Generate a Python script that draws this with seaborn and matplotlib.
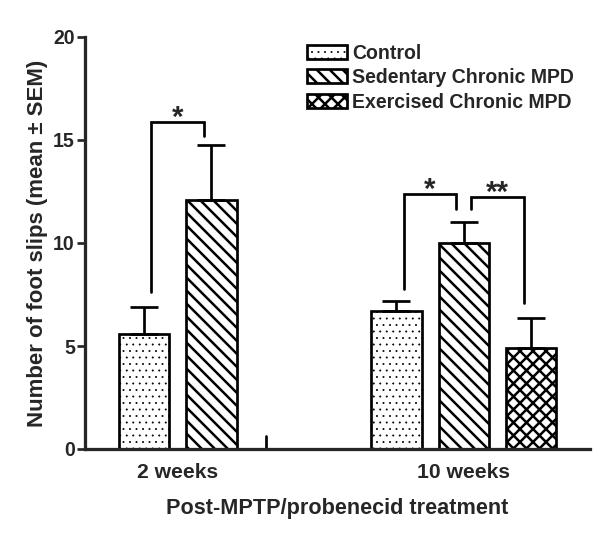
import matplotlib
matplotlib.use("Agg")
import matplotlib.pyplot as plt
from matplotlib.patches import Patch
from matplotlib.colors import to_hex
import numpy as np
import pandas as pd
import seaborn as sns

# data
groups = ["2 weeks", "10 weeks"]
conditions = ["Control", "Sedentary Chronic MPD", "Exercised Chronic MPD"]
bar_group = ["2 weeks", "2 weeks", "10 weeks", "10 weeks", "10 weeks"]
bar_cond = ["Control", "Sedentary Chronic MPD", "Control",
            "Sedentary Chronic MPD", "Exercised Chronic MPD"]
means = [5.6, 12.1, 6.7, 10.0, 4.9]
sems = [1.3, 2.65, 0.5, 1.0, 1.45]

# hatch spacing follows dpi, 78 dpi gives the ~13 px pattern of the original
DPI = 78
sns.set_style("ticks")
plt.rcParams["font.family"] = ["Liberation Sans", "DejaVu Sans"]
plt.rcParams["font.weight"] = "bold"
plt.rcParams["hatch.linewidth"] = 2.3
plt.rcParams["hatch.color"] = "black"

lw = 2.5
df = pd.DataFrame({"group": bar_group, "condition": bar_cond, "mean": means})

fig = plt.figure(figsize=(600 / DPI, 538 / DPI), dpi=DPI)
ax = fig.add_axes([85 / 600, 89 / 538, 505 / 600, 412 / 538])

keycols = ["#ff0000", "#00ff00", "#0000ff"]
palette = dict(zip(conditions, keycols))
hatches = {"Control": "..", "Sedentary Chronic MPD": "\\\\", "Exercised Chronic MPD": "xx"}

sns.barplot(data=df, x="group", y="mean", hue="condition", order=groups,
            hue_order=conditions, palette=palette, saturation=1, errorbar=None,
            width=0.8, gap=0.25, legend=False, edgecolor="black", linewidth=lw,
            ax=ax)

col2cond = dict(zip(keycols, conditions))
for p in ax.patches:
    cond = col2cond[to_hex(p.get_facecolor())]
    p.set_facecolor("white")
    p.set_edgecolor("black")
    p.set_hatch(hatches[cond])
    if cond == "Control" and hasattr(p, "set_hatch_linewidth"):
        p.set_hatch_linewidth(0.6)

# upper-only error bars
slot = 0.8 / len(conditions)
xpos = {}
for g, c in zip(bar_group, bar_cond):
    xpos[(g, c)] = groups.index(g) + (conditions.index(c) - 1) * slot
xs = [xpos[(g, c)] for g, c in zip(bar_group, bar_cond)]
ax.errorbar(xs, means, yerr=[np.zeros(len(sems)), sems], fmt="none",
            ecolor="black", elinewidth=lw, capsize=12.5, capthick=lw)

# significance brackets: (group, cond a, cond b, top, leg a bottom, leg b bottom, label)
brackets = [
    ("2 weeks", 0, 1, 15.87, 7.6, 15.2, "*"),
    ("10 weeks", 0, 1, 12.38, 7.77, 11.65, "*"),
    ("10 weeks", 1, 2, 12.23, 11.65, 7.09, "**"),
]
for g, a, b, top, ya, yb, lab in brackets:
    xa = xpos[(g, conditions[a])] + 0.03
    xb = xpos[(g, conditions[b])] - 0.03
    ax.plot([xa, xa, xb, xb], [ya, top, top, yb], color="black", lw=lw,
            solid_joinstyle="miter", clip_on=False)
    ax.text((xa + xb) / 2, top - 0.2, lab, ha="center", va="baseline",
            fontsize=27, fontweight="bold")

# small mark between the groups
ax.plot([0.218, 0.218], [0, 0.63], color="black", lw=lw)

ax.set_xlim(-0.5, 1.5)
ax.set_ylim(0, 20)
ax.set_yticks([0, 5, 10, 15, 20])
tick2 = (xpos[("2 weeks", "Control")] + xpos[("2 weeks", "Sedentary Chronic MPD")]) / 2
ax.set_xticks([tick2, 1.0])
ax.set_xticklabels(groups)
ax.tick_params(axis="x", length=0, pad=13, labelsize=19.5)
ax.tick_params(axis="y", length=7.4, width=lw, pad=2, labelsize=18)
for s in ["left", "bottom"]:
    ax.spines[s].set_linewidth(3)
sns.despine(ax=ax)
ax.set_xlabel("Post-MPTP/probenecid treatment", fontsize=20, fontweight="bold", labelpad=15)
ax.set_ylabel("Number of foot slips (mean \u00b1 SEM)", fontsize=20.5,
              fontweight="bold", labelpad=5)

handles = [Patch(facecolor="white", edgecolor="black", linewidth=lw,
                 hatch=hatches[c], label=c) for c in conditions]
leg = fig.legend(handles=handles, loc="upper left",
                 bbox_to_anchor=(307 / 600, 1 - 44 / 538), frameon=False,
                 fontsize=18, handlelength=2.05, handleheight=0.72,
                 handletextpad=0.28, labelspacing=0.27, borderpad=0,
                 borderaxespad=0)
for t in leg.get_texts():
    t.set_fontweight("bold")
if hasattr(leg.legend_handles[0], "set_hatch_linewidth"):
    leg.legend_handles[0].set_hatch_linewidth(0.6)

fig.savefig("out.png", dpi=DPI)
